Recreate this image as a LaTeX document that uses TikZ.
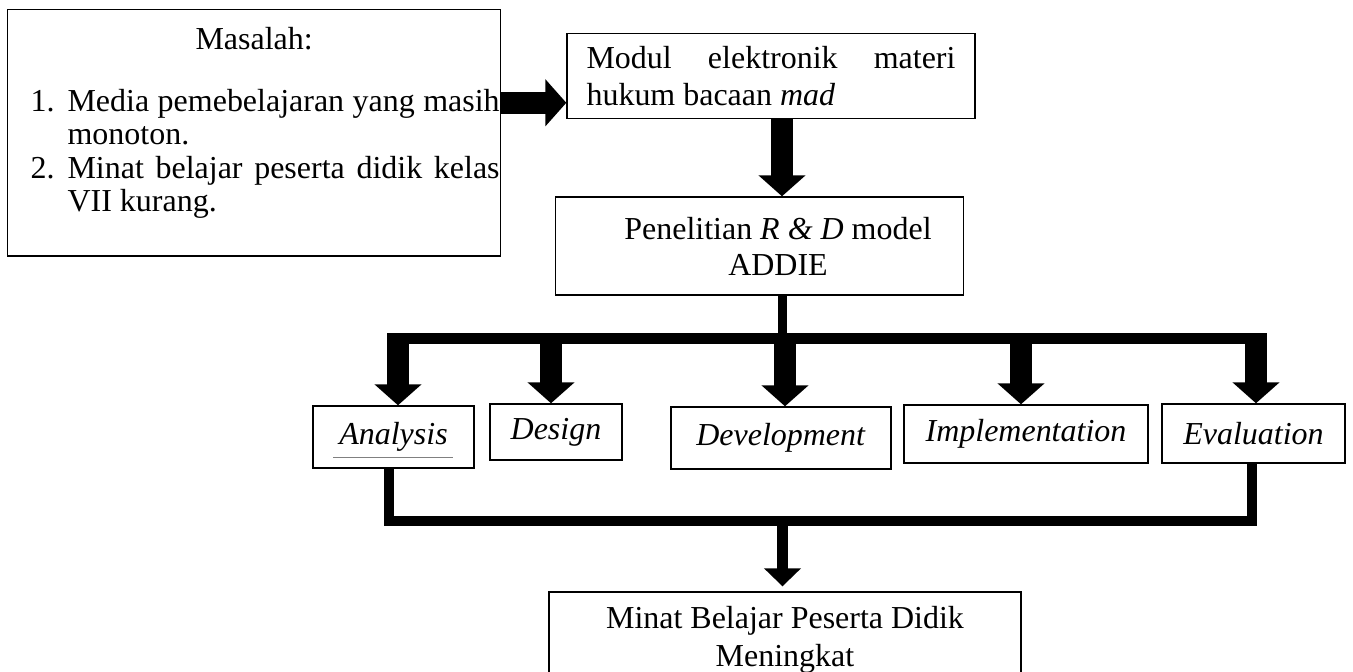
\documentclass[tikz,border=0pt]{standalone}
\usepackage{fontspec}
\setmainfont{Liberation Serif}
\usetikzlibrary{arrows.meta}
\tikzset{
kotak/.style={draw, line width=0.8pt, inner sep=0pt, align=center},
panah/.style={line width=0.44cm, -{Triangle[width=0.92cm,length=0.42cm]}},
panahkecil/.style={line width=0.22cm, -{Triangle[width=0.72cm,length=0.36cm]}},
batang/.style={line width=0.18cm}
}

\begin{document}
\begin{tikzpicture}[x=0.02cm, y=-0.02cm, font=\fontsize{18.2}{20.5}\selectfont]
	\useasboundingbox (0,0) rectangle (1353,672);
	\clip (0,0) rectangle (1353,672);
	% kotak-kotak
	\node[kotak, anchor=north west, text width=9.82cm, inner xsep=0.02cm, inner ysep=0.36cm, align=justify] (masalah) at (7,9) {%
		{\noindent\centering Masalah:\par}
		\vspace{16pt}
		{\leftskip=0.44cm \fontsize{18.2}{19}\selectfont
		\hangindent=21pt\hangafter=1\noindent\makebox[21pt][l]{1.}Media pemebelajaran yang masih\linebreak monoton.\par
		\hangindent=21pt\hangafter=1\noindent\makebox[21pt][l]{2.}Minat belajar peserta didik kelas\linebreak VII kurang.\rule[-15pt]{0pt}{15pt}\par}};
	\node[kotak, minimum width=8.16cm, minimum height=1.7cm, text width=7.38cm, align=justify, font=\fontsize{18.2}{21}\selectfont] (modul) at (771,76) {\noindent Modul elektronik materi\linebreak hukum bacaan \textit{mad}};
	\node[kotak, minimum width=8.16cm, minimum height=1.96cm, label={[align=center, xshift=0.37cm]center:{Penelitian \textit{R \& D} model\\ADDIE}}] (penelitian) at (759.5,246) {};
	\node[kotak, minimum width=3.22cm, minimum height=1.24cm] (analysis) at (393.5,437) {\textit{Analysis}};
	\node[kotak, minimum width=2.64cm, minimum height=1.12cm] (design) at (556,432) {\textit{Design}};
	\node[kotak, minimum width=4.4cm, minimum height=1.24cm] (development) at (781,438) {\textit{Development}};
	\node[kotak, minimum width=4.88cm, minimum height=1.16cm] (implementation) at (1026,434) {\textit{Implementation}};
	\node[kotak, minimum width=3.66cm, minimum height=1.18cm] (evaluation) at (1253.5,433.5) {\textit{Evaluation}};
	\node[kotak, minimum width=9.44cm, minimum height=1.92cm, font=\fontsize{18.2}{21.6}\selectfont] (minat) at (785,640) {Minat Belajar Peserta Didik\\Meningkat};
	\draw[gray, line width=0.5pt] ([shift={(0.42cm,0.22cm)}]analysis.south west) -- ([shift={(-0.44cm,0.22cm)}]analysis.south east);
	% panah
	\coordinate (bus) at (782.5,338.5);
	\coordinate (kumpul) at (782.5,521);
	\draw[panah] ([yshift=0.6cm]masalah.east) -- ([yshift=0.6cm]masalah.east -| modul.west);
	\draw[panah] ([xshift=0.22cm]modul.south) -- ([xshift=0.22cm]modul.south |- penelitian.north);
	\draw[batang] (penelitian.south -| bus) -- (bus);
	\draw[line width=0.22cm] ([xshift=-0.13cm]analysis.north |- bus) -- ([xshift=0.27cm]evaluation.north |- bus);
	\draw[panah] ([xshift=0.09cm]analysis.north |- bus) -- ([xshift=0.09cm]analysis.north);
	\draw[panah] ([xshift=-0.1cm]design.north |- bus) -- ([xshift=-0.1cm]design.north);
	\draw[panah] ([xshift=0.08cm]development.north |- bus) -- ([xshift=0.08cm]development.north);
	\draw[panah] ([xshift=-0.1cm]implementation.north |- bus) -- ([xshift=-0.1cm]implementation.north);
	\draw[panah] ([xshift=0.05cm]evaluation.north |- bus) -- ([xshift=0.05cm]evaluation.north);
	\draw[batang, line width=0.2cm] ([xshift=-0.1cm]analysis.south) -- ([xshift=-0.1cm]analysis.south |- kumpul) -- ([xshift=-0.03cm]evaluation.south |- kumpul) -- ([xshift=-0.03cm]evaluation.south);
	\draw[panahkecil] (kumpul) -- ([yshift=0.1cm]kumpul |- minat.north);
\end{tikzpicture}
\end{document}
